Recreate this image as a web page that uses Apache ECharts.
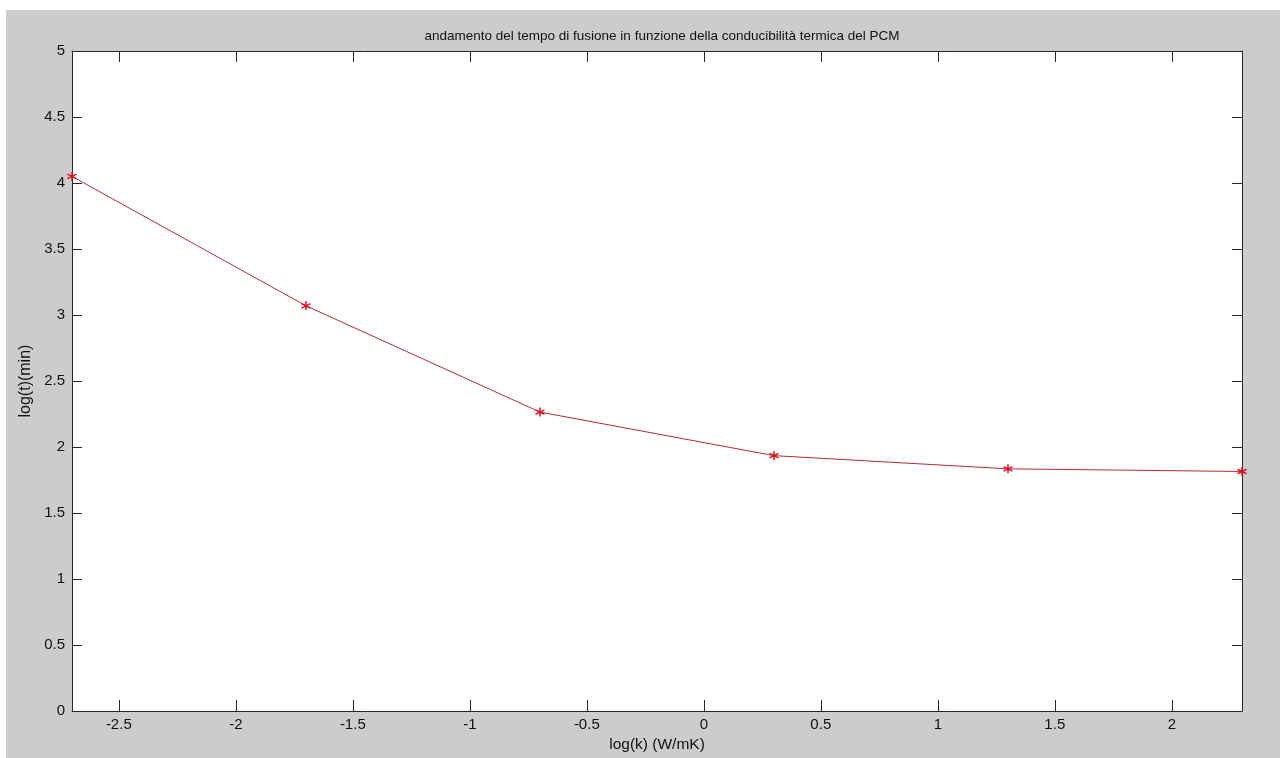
<!DOCTYPE html>
<html>
<head>
<meta charset="utf-8">
<script src="https://cdn.jsdelivr.net/npm/echarts@6/dist/echarts.min.js"></script>
<style>
  html, body { margin: 0; padding: 0; background: #ffffff; }
  #chart { position: absolute; left: 6px; top: 10px; width: 1274px; height: 748px; }
</style>
</head>
<body>
<div id="chart"></div>
<script>
// valori
const logK = [-2.7, -1.7, -0.7, 0.3, 1.3, 2.3]
const logT = [4.05, 3.07, 2.265, 1.935, 1.835, 1.815]

const xRange = [-2.7, 2.3]
const yRange = [0, 5]

const titleText = "andamento del tempo di fusione in funzione della conducibilità termica del PCM"
const xName = "log(k) (W/mK)"
const yName = "log(t)(min)"

// simbolo asterisco (solo contorno)
const star = "path://M0,-5L0,5M-4.33,-2.5L4.33,2.5M-4.33,2.5L4.33,-2.5"

const font = "Liberation Sans, Arial, sans-serif"
const axisColor = "#262626"

const chart = echarts.init(document.getElementById("chart"))

const baseAxis = {
  type: "value",
  splitLine: { show: false },
  axisLine: { show: true, onZero: false, lineStyle: { color: axisColor, width: 1 } },
  axisTick: { show: true, inside: true, lineStyle: { color: axisColor, width: 1 } },
}

const option = {
  backgroundColor: "#cccccc",
  animation: false,
  title: {
    text: titleText,
    left: 651,
    top: 14,
    textAlign: "center",
    textStyle: { fontFamily: font, fontSize: 13.5, fontWeight: "normal", color: "#111" },
  },
  grid: { left: 66, right: 38, top: 41, bottom: 41, show: true, backgroundColor: "#ffffff", borderWidth: 0 },
  xAxis: [
    {
      ...baseAxis,
      min: xRange[0],
      max: xRange[1],
      splitNumber: 10,
      position: "bottom",
      axisTick: { ...baseAxis.axisTick, length: 11 },
      axisLabel: {
        margin: 6, showMinLabel: false, showMaxLabel: false,
        color: "#111", fontFamily: font, fontSize: 15,
      },
      name: xName,
      nameLocation: "middle",
      nameGap: 25,
      nameTextStyle: { color: "#111", fontFamily: font, fontSize: 15.5 },
    },
    {
      ...baseAxis,
      min: xRange[0],
      max: xRange[1],
      splitNumber: 10,
      position: "top",
      axisTick: { ...baseAxis.axisTick, length: 11 },
      axisLabel: { show: false },
    },
  ],
  yAxis: [
    {
      ...baseAxis,
      min: yRange[0],
      max: yRange[1],
      interval: 0.5,
      position: "left",
      axisTick: { ...baseAxis.axisTick, length: 10 },
      axisLabel: { margin: 7, color: "#111", fontFamily: font, fontSize: 15 },
      name: yName,
      nameLocation: "middle",
      nameGap: 36,
      nameTextStyle: { color: "#111", fontFamily: font, fontSize: 16 },
    },
    {
      ...baseAxis,
      min: yRange[0],
      max: yRange[1],
      interval: 0.5,
      position: "right",
      axisTick: { ...baseAxis.axisTick, length: 10 },
      axisLabel: { show: false },
    },
  ],
  series: [
    {
      type: "line",
      data: logK.map((k, i) => [k, logT[i]]),
      lineStyle: { color: "#b8283a", width: 1 },
      symbol: star,
      symbolSize: 9,
      showAllSymbol: true,
      clip: false,
      itemStyle: { color: "none", borderColor: "#e01020", borderWidth: 1.5 },
    },
  ],
}

chart.setOption(option)
</script>
</body>
</html>
